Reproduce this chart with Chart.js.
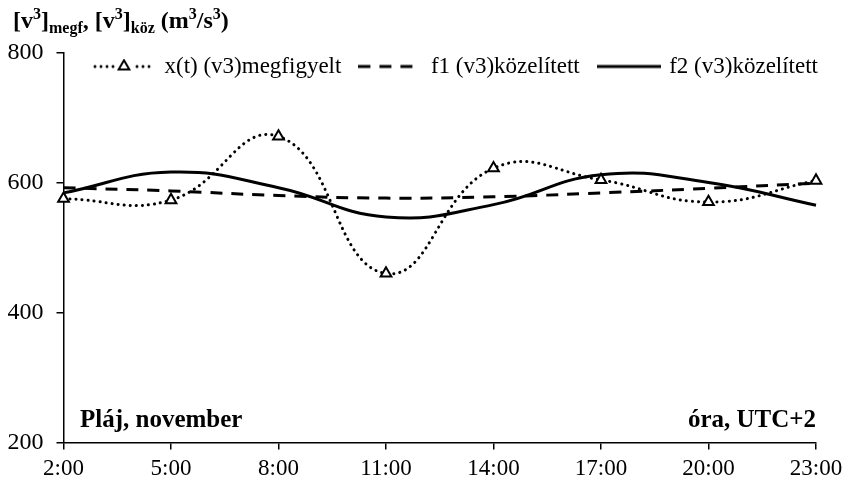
<!DOCTYPE html>
<html>
<head>
<meta charset="utf-8">
<script src="https://cdn.jsdelivr.net/npm/chart.js@4"></script>
<style>
  html, body { margin: 0; padding: 0; background: #fff; }
  #wrap { width: 847px; height: 482px; }
</style>
</head>
<body>
<div id="wrap"><canvas id="c" width="847" height="482"></canvas></div>
<script>
const hours = ['2:00', '5:00', '8:00', '11:00', '14:00', '17:00', '20:00', '23:00'];
const observed = [575, 573, 671, 460, 622, 604, 570, 603];
const approxF1 = [592, 587, 580, 576, 578, 584, 591, 599];
const approxF2 = [584, 616, 592, 547, 566, 612, 600, 565];
const seriesNames = ['x(t) (v3)megfigyelt', 'f1 (v3)közelített', 'f2 (v3)közelített'];
const yMin = 200, yMax = 800, yStep = 200;

const SERIF = "'Liberation Serif', 'Times New Roman', serif";

function legendImage(kind) {
  const c = document.createElement('canvas');
  c.width = 64; c.height = 16;
  const g = c.getContext('2d');
  g.strokeStyle = '#000';
  const y = 8;
  if (kind === 'dot') {
    g.fillStyle = '#000';
    for (let x = 3; x <= 62; x += 6) {
      if (Math.abs(x - 32) < 8) continue;
      g.beginPath(); g.arc(x, y, 1.5, 0, Math.PI * 2); g.fill();
    }
    const r = 6.2;
    g.beginPath();
    g.moveTo(32, y - r);
    g.lineTo(32 + r * Math.cos(Math.PI / 6), y + r / 2);
    g.lineTo(32 - r * Math.cos(Math.PI / 6), y + r / 2);
    g.closePath();
    g.fillStyle = '#fff'; g.fill();
    g.lineWidth = 2; g.stroke();
  } else if (kind === 'dash') {
    g.lineWidth = 3;
    g.setLineDash([12, 9]);
    g.beginPath(); g.moveTo(0, y); g.lineTo(56, y); g.stroke();
  } else {
    g.lineWidth = 3;
    g.beginPath(); g.moveTo(0, y); g.lineTo(64, y); g.stroke();
  }
  return c;
}
const legendImgs = [legendImage('dot'), legendImage('dash'), legendImage('solid')];

const LEG_PAD = 20;
const legendShift = {
  id: 'legendShift',
  beforeUpdate(chart) {
    const lg = chart.legend;
    if (lg && !lg._patched) {
      lg._patched = true;
      const origFit = lg.fit;
      lg.fit = function () { origFit.call(this); this.height = 0; };
    }
  },
  afterLayout(chart) {
    const lg = chart.legend;
    if (!lg) return;
    lg.top -= 17.5;
    lg.bottom = lg.top + 70;
    lg.height = 70;
    lg.left += 22; lg.right += 22;
  }
};

function drawSegments(ctx, x, baseY, segs) {
  for (const s of segs) {
    ctx.font = 'bold ' + s.size + 'px ' + SERIF;
    ctx.fillText(s.t, x, baseY + (s.dy || 0));
    x += ctx.measureText(s.t).width;
  }
}

const textPlugin = {
  id: 'texts',
  afterDraw(chart) {
    const ctx = chart.ctx;
    const area = chart.chartArea;
    ctx.save();
    ctx.fillStyle = '#000';
    ctx.textBaseline = 'alphabetic';
    ctx.textAlign = 'left';
    const B = 24, S = 16;
    drawSegments(ctx, 13, 28, [
      {t: '[v', size: B}, {t: '3', size: S, dy: -9}, {t: ']', size: B},
      {t: 'megf', size: S, dy: 5}, {t: ', [v', size: B}, {t: '3', size: S, dy: -9},
      {t: ']', size: B}, {t: 'köz', size: S, dy: 5}, {t: ' (m', size: B},
      {t: '3', size: S, dy: -9}, {t: '/s', size: B}, {t: '3', size: S, dy: -9}, {t: ')', size: B}
    ]);
    ctx.font = 'bold 25px ' + SERIF;
    ctx.textAlign = 'left';
    ctx.fillText('Pláj, november', area.left + 16.5, 427);
    ctx.textAlign = 'right';
    ctx.fillText('óra, UTC+2', area.right, 427);
    ctx.restore();
  }
};

new Chart(document.getElementById('c'), {
  type: 'line',
  data: {
    labels: hours,
    datasets: [
      {
        label: seriesNames[0], data: observed,
        borderColor: '#000', borderWidth: 3, borderDash: [0.1, 6], borderCapStyle: 'round',
        pointStyle: 'triangle', pointRadius: 6.2, pointBorderWidth: 2,
        pointBackgroundColor: '#fff', pointBorderColor: '#000',
        tension: 0.45, fill: false
      },
      {
        label: seriesNames[1], data: approxF1,
        borderColor: '#000', borderWidth: 3, borderDash: [12, 9],
        pointRadius: 0, tension: 0.45, fill: false
      },
      {
        label: seriesNames[2], data: approxF2,
        borderColor: '#000', borderWidth: 3,
        pointRadius: 0, tension: 0.45, fill: false
      }
    ]
  },
  options: {
    responsive: false,
    animation: false,
    devicePixelRatio: 1,
    layout: { padding: { left: 8, right: 31, top: 52.5, bottom: 0 } },
    plugins: {
      tooltip: { enabled: false },
      legend: {
        position: 'top',
        align: 'end',
        fullSize: true,
        labels: {
          usePointStyle: true,
          pointStyleWidth: 58,
          boxHeight: 16,
          padding: LEG_PAD,
          color: '#000',
          font: { family: SERIF, size: 23 },
          generateLabels(chart) {
            return chart.data.datasets.map((ds, i) => ({
              text: ds.label, pointStyle: legendImgs[i], datasetIndex: i,
              hidden: false, lineWidth: 0, strokeStyle: 'rgba(0,0,0,0)', fillStyle: 'rgba(0,0,0,0)',
              fontColor: '#000'
            }));
          }
        }
      }
    },
    scales: {
      x: {
        type: 'category',
        offset: false,
        grid: { display: true, drawOnChartArea: false, drawTicks: true, tickLength: 7, color: '#000', lineWidth: 1.5 },
        border: { display: true, color: '#000', width: 1.5 },
        ticks: { color: '#000', font: { family: SERIF, size: 23 }, padding: 6, maxRotation: 0, autoSkip: false },
        afterFit(s) { s.height = 39.5; s.paddingLeft = 0; s.paddingRight = 0; }
      },
      y: {
        min: yMin, max: yMax,
        grid: { display: true, drawOnChartArea: false, drawTicks: true, tickLength: 7, color: '#000', lineWidth: 1.5 },
        border: { display: true, color: '#000', width: 1.5 },
        ticks: { stepSize: yStep, color: '#000', font: { family: SERIF, size: 24 }, padding: 13 },
        afterFit(s) { s.width = 55.5; }
      }
    }
  },
  plugins: [legendShift, textPlugin]
});
</script>
</body>
</html>
